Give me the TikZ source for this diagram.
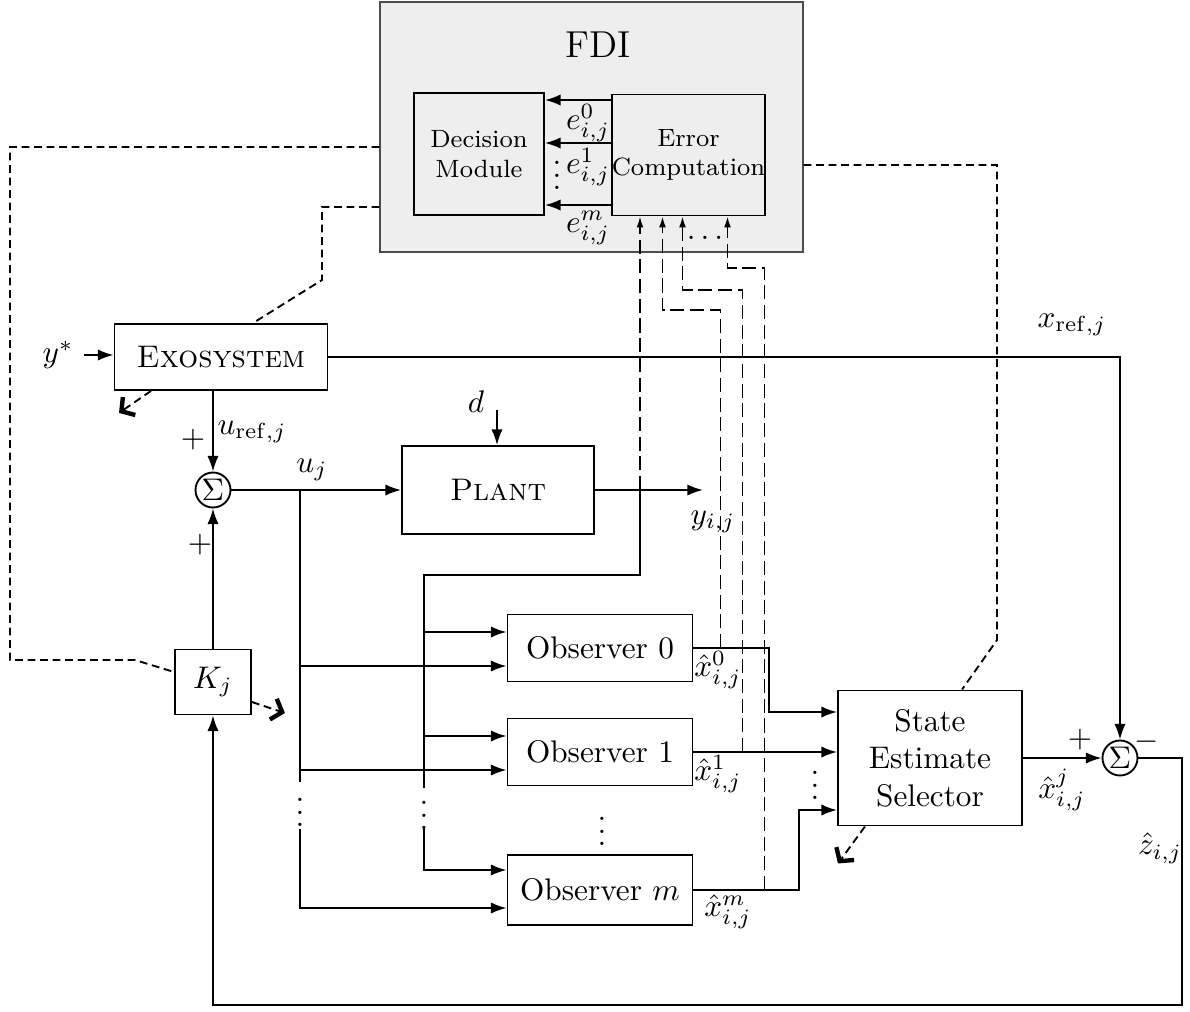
\documentclass[tikz,border=0pt]{standalone}
\usepackage{amsmath}
\usepackage{amssymb}
\usepackage{xcolor}
\usetikzlibrary{arrows.meta, positioning, calc}

\begin{document}
\begin{tikzpicture}[x=0.32pt, y=-0.32pt,
  blk/.style 2 args={draw, semithick, inner sep=0pt, align=center,
    minimum width=#1*0.32pt, minimum height=#2*0.32pt},
  sumnode/.style={draw, circle, semithick, inner sep=0pt, minimum size=35*0.32pt},
  sig/.style={semithick, -{Latex[length=5pt, width=3.6pt]}},
  wire/.style={semithick},
  fb/.style={line width=0.5pt, dash pattern=on 4.5pt off 1.8pt, -{Latex[length=3.5pt, width=2.2pt]}},
  ctl/.style={semithick, dash pattern=on 2.5pt off 1.5pt},
  ctlarrow/.style={ctl, -{Straight Barb[length=3pt, width=7pt, line width=1.4pt]}}]

  \useasboundingbox (0,0) rectangle (1190,1012);

  % FDI unit
  \node[blk={423}{250}, fill=gray!13, draw=black!70, thin] (fdi) at (591.5,127) {};
  \node[font=\large] (fditext) at (598,45) {FDI};
  \node[blk={130}{122}, font=\footnotesize] (dm) at (479,154) {Decision\\Module};
  \node[blk={153}{121}, font=\footnotesize] (ec) at (688.5,155) {Error\\Computation};

  % Error signals
  \foreach \yy in {100,143,205}
    \draw[sig] (ec.west |- 0,\yy) -- (dm.east |- 0,\yy);
  \node (e0) at (588,123) {$e^0_{i,j}$};
  \node (e1) at (588,167) {$e^1_{i,j}$};
  \node (em) at (588,228) {$e^m_{i,j}$};
  \node (edots) at (557,166) {$\vdots$};

  % Main blocks
  \node[blk={213}{66}] (exo) at (221,357) {\textsc{Exosystem}};
  \node[sumnode] (sum1) at (213,490) {$\Sigma$};
  \node[blk={192}{88}] (plant) at (498,490) {\textsc{Plant}};
  \node[blk={76}{65}] (kj) at (213,682) {$K_j$};
  \node[blk={185}{67}] (obs0) at (600,648) {Observer 0};
  \node[blk={185}{67}] (obs1) at (600,752) {Observer 1};
  \node[blk={185}{70}] (obsm) at (600,890) {Observer $m$};
  \node[blk={184}{135}] (ses) at (930,758) {State\\Estimate\\Selector};
  \node[sumnode] (sum2) at (1120,758) {$\Sigma$};

  % Inputs and outputs
  \node (ystar) at (58,355) {$y^*$};
  \draw[sig] (ystar) -- (exo.west |- ystar);
  \coordinate (din) at (497,410);
  \node (d) at (476,402) {$d$};
  \draw[sig] (din) -- (plant.north -| din);
  \coordinate (yout) at (703,490);
  \draw[sig] (plant) -- (yout);
  \node (ylab) at (713,522) {$y_{i,j}$};

  % Reference signals
  \draw[sig] (exo.south -| sum1) -- (sum1);
  \node (ureflab) at (252,432) {$u_{\mathrm{ref},j}$};
  \node (p1) at (193,440) {$+$};
  \draw[sig] (exo.east) -| (sum2);
  \node (xreflab) at (1072,325) {$x_{\mathrm{ref},j}$};
  \draw[sig] (kj) -- (sum1);
  \node (p2) at (200,545) {$+$};

  % Control signal to plant and observers
  \coordinate (ub) at (300,490);
  \draw[sig] (sum1) -- (plant);
  \node (ulab) at (312,470) {$u_j$};
  \draw[wire] (ub) -- (300,782);
  \node (udots) at (300,803) {$\vdots$};
  \draw[sig] (300,829) |- ($(obsm.west)+(0,18)$);
  \foreach \o in {obs0,obs1}
    \draw[sig] ($(\o.west)+(-208,18)$) -- ($(\o.west)+(0,18)$);

  % Measured output to observers
  \coordinate (yb) at (640,490);
  \draw[wire] (yb) -- (640,575) -| (424,788);
  \node (ydots) at (424,806) {$\vdots$};
  \draw[sig] (424,828) |- ($(obsm.west)+(0,-20)$);
  \foreach \o in {obs0,obs1}
    \draw[sig] ($(\o.west)+(-84,-16)$) -- ($(\o.west)+(0,-16)$);
  \node (odots) at (602,822) {$\vdots$};

  % Observer estimates
  \draw[sig] (obs0.east) -| ($(ses.west)+(-68,-46)$) -- ($(ses.west)+(0,-46)$);
  \draw[sig] (obs1.east) -- (obs1.east -| ses.west);
  \draw[sig] (obsm.east) -| ($(ses.west)+(-38,52)$) -- ($(ses.west)+(0,52)$);
  \node (x0lab) at (718,670) {$\hat{x}^0_{i,j}$};
  \node (x1lab) at (718,774) {$\hat{x}^1_{i,j}$};
  \node (xmlab) at (728,912) {$\hat{x}^m_{i,j}$};
  \node (sdots) at (815,776) {$\vdots$};

  % Estimate error and feedback
  \draw[sig] (ses.east |- sum2) -- (sum2);
  \node (p3) at (1080,740) {$+$};
  \node (m1) at (1147,742) {$-$};
  \node (xjlab) at (1062,790) {$\hat{x}^j_{i,j}$};
  \coordinate (fbc) at (1182,1005);
  \draw[sig] (sum2) -| (fbc) -| (kj);
  \node (zlab) at (1160,848) {$\hat{z}_{i,j}$};

  % Signals to error computation
  \coordinate (tap0) at ($(obs0.east)+(27,0)$);
  \coordinate (tap1) at ($(obs1.east)+(49,0)$);
  \coordinate (tapm) at ($(obsm.east)+(71,0)$);
  \draw[fb] (yb) -- (yb |- ec.south);
  \draw[fb] (tap0) -- ++(0,-338) -| ($(ec.south)+(-26,0)$);
  \draw[fb] (tap1) -- ++(0,-462) -| ($(ec.south)+(-6,0)$);
  \draw[fb] (tapm) -- ++(0,-622) -| ($(ec.south)+(39,0)$);
  \node (ecdots) at (705,238) {$\ldots$};

  % Decisions from FDI
  \draw[ctl] (fdi.west |- 0,147) -| (10,660) -- (135,660) -- ($(kj.west)+(0,-10)$);
  \draw[ctl] (fdi.west |- 0,207) -| (322,280) -- ($(exo.north)+(32,0)$);
  \draw[ctl] (fdi.east |- 0,165) -| (997,640) -- ($(ses.north)+(32,0)$);
  \draw[ctlarrow] ($(exo.south)+(-70,0)$) -- ++(-32,22);
  \draw[ctlarrow] ($(kj.east)+(0,20)$) -- ++(33,11);
  \draw[ctlarrow] ($(ses.south)+(-65,0)$) -- ++(-27,37);
\end{tikzpicture}
\end{document}
